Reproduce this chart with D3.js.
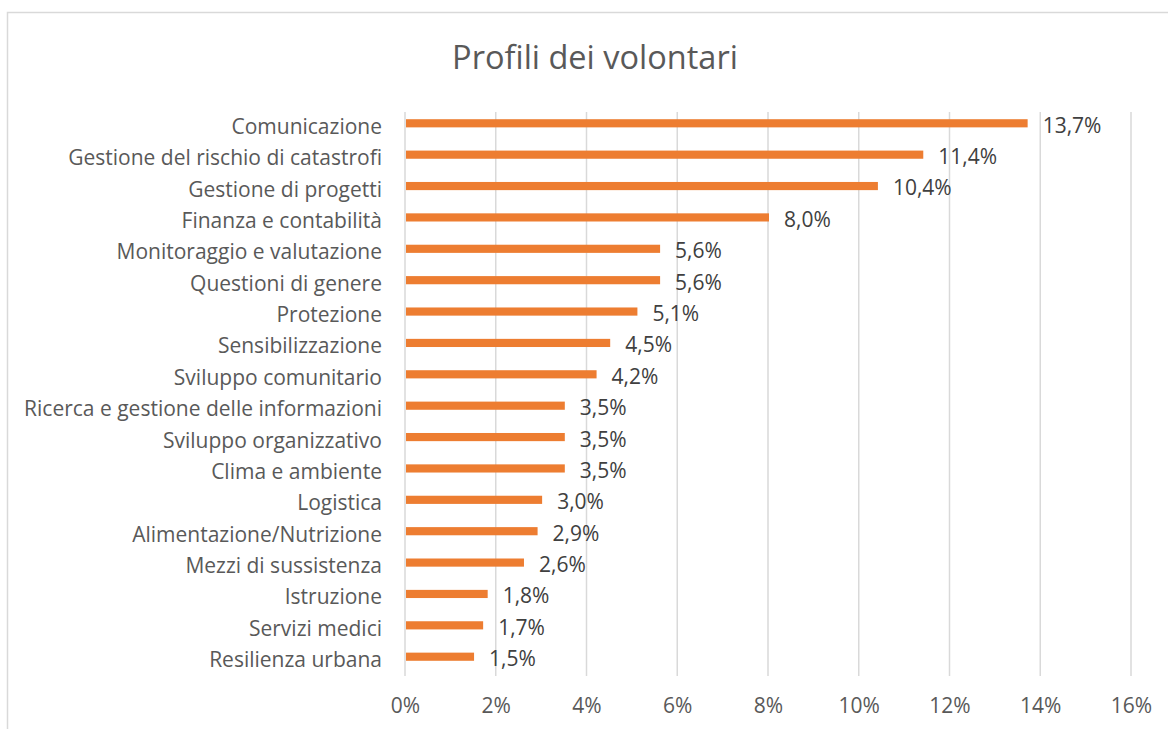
<!DOCTYPE html>
<html>
<head>
<meta charset="utf-8">
<script src="https://cdn.jsdelivr.net/npm/d3@7"></script>
<style>
  body { margin: 0; background: #fff; }
  svg { display: block; }
</style>
</head>
<body>
<div id="chart"></div>
<script>
const categories = [
  "Comunicazione",
  "Gestione del rischio di catastrofi",
  "Gestione di progetti",
  "Finanza e contabilità",
  "Monitoraggio e valutazione",
  "Questioni di genere",
  "Protezione",
  "Sensibilizzazione",
  "Sviluppo comunitario",
  "Ricerca e gestione delle informazioni",
  "Sviluppo organizzativo",
  "Clima e ambiente",
  "Logistica",
  "Alimentazione/Nutrizione",
  "Mezzi di sussistenza",
  "Istruzione",
  "Servizi medici",
  "Resilienza urbana"
];
const values = [13.7, 11.4, 10.4, 8.0, 5.6, 5.6, 5.1, 4.5, 4.2, 3.5, 3.5, 3.5, 3.0, 2.9, 2.6, 1.8, 1.7, 1.5];
const xTicks = [0, 2, 4, 6, 8, 10, 12, 14, 16];
const title = "Profili dei volontari";

const width = 1168;
const height = 729;
const margin = { top: 112, left: 405 };
const innerWidth = 1131 - margin.left;
const innerHeight = 676 - margin.top;
const font = "'Open Sans', sans-serif";
const textColor = "#595959";

const svg = d3
  .select("#chart")
  .append("svg")
  .attr("width", width)
  .attr("height", height);

// chart border
svg.append("rect")
  .attr("x", 7.5)
  .attr("y", 12.5)
  .attr("width", width)
  .attr("height", height)
  .attr("fill", "none")
  .attr("stroke", "#d9d9d9")
  .attr("stroke-width", 1.5);

svg.append("text")
  .attr("x", 595)
  .attr("y", 69)
  .style("font-family", font)
  .style("font-size", "32.5px")
  .style("text-anchor", "middle")
  .attr("fill", textColor)
  .text(title);

const g = svg.append("g")
  .attr("transform", `translate(${margin.left}, ${margin.top})`);

const xScale = d3.scaleLinear().domain([0, 16]).range([0, innerWidth]);
// bands centred on the bar rows; rows sit a little high in the plot area
const yScale = d3.scaleBand()
  .domain(categories)
  .range([-4.4, innerHeight - 3.6])
  .paddingInner(0.74)
  .paddingOuter(0.37);

// gridlines
g.selectAll(".grid")
  .data(xTicks)
  .join("line")
  .attr("class", "grid")
  .attr("x1", d => xScale(d))
  .attr("x2", d => xScale(d))
  .attr("y1", 0)
  .attr("y2", innerHeight)
  .attr("stroke", "#d9d9d9")
  .attr("stroke-width", 1.5);

// x axis labels
const xAxis = d3.axisBottom(xScale)
  .tickValues(xTicks)
  .tickFormat(d => d + "%")
  .tickSize(0)
  .tickPadding(22);
const xg = g.append("g")
  .attr("transform", `translate(0, ${innerHeight})`)
  .call(xAxis);
xg.select(".domain").remove();
xg.selectAll("text")
  .style("font-family", font)
  .style("font-size", "21px")
  .attr("fill", textColor);

// y axis labels
const yAxis = d3.axisLeft(yScale).tickSize(0).tickPadding(23);
const yg = g.append("g").call(yAxis);
yg.select(".domain").remove();
yg.selectAll("text")
  .style("font-family", font)
  .style("font-size", "21px")
  .attr("dy", "0.5em")
  .attr("fill", textColor);

// bars
g.selectAll(".bar")
  .data(values)
  .join("rect")
  .attr("class", "bar")
  .attr("x", xScale(0) + 1)
  .attr("y", (d, i) => yScale(categories[i]))
  .attr("width", d => xScale(d) - xScale(0))
  .attr("height", yScale.bandwidth())
  .attr("fill", "#ed7d31");

// data labels
g.selectAll(".val")
  .data(values)
  .join("text")
  .attr("class", "val")
  .attr("x", d => xScale(d) + 16)
  .attr("y", (d, i) => yScale(categories[i]) + yScale.bandwidth() / 2)
  .attr("dy", "0.45em")
  .style("font-family", font)
  .style("font-size", "21px")
  .attr("fill", "#404040")
  .text(d => d3.format(".1f")(d).replace(".", ",") + "%");
</script>
</body>
</html>
